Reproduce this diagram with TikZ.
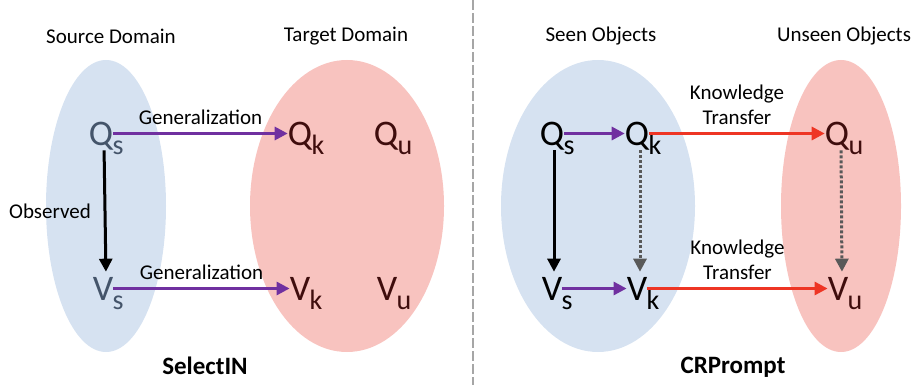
\documentclass[tikz,border=0pt]{standalone}
\usepackage{fontspec}
\setmainfont{Carlito}
\usepackage{tikz}
\usetikzlibrary{arrows.meta, positioning, calc}

\definecolor{seenblue}{HTML}{D6E2F1}
\definecolor{unseenred}{HTML}{F8C3BF}
\definecolor{slategray}{HTML}{44546A}
\definecolor{darkmaroon}{HTML}{3F0D0D}
\definecolor{genpurple}{HTML}{7030A0}
\definecolor{transred}{HTML}{EE3524}

% big letter with its subscript: name, position, letter, subscript, colour
\newcommand{\symnode}[5]{%
	\node[bigsym, text=#5] (#1) at (#2) {#3};
	\node[subsym, text=#5, anchor=base west] (#1sub) at ([xshift=-1pt,yshift=-9pt]#1.south east) {#4};}

\begin{document}
\begin{tikzpicture}[x=1pt, y=-1pt,
	bigsym/.style={inner sep=0pt, font=\fontsize{36}{36}\selectfont, text height=23.2pt, text depth=0pt},
	subsym/.style={inner sep=0pt, font=\fontsize{28}{28}\selectfont},
	lbl/.style={inner sep=0pt, text=black, font=\fontsize{21}{25}\selectfont, align=center},
	title/.style={inner sep=0pt, font=\fontsize{25}{25}\selectfont\bfseries},
	arr/.style={line width=3pt, -{Triangle[length=13pt, width=13pt]}},
	gen/.style={arr, genpurple},
	trans/.style={arr, transred},
	obs/.style={arr, black, shorten <=5pt, shorten >=5pt},
	infer/.style={arr, black!65, dash pattern=on 3pt off 2pt, shorten <=5pt, shorten >=5pt}]
			\useasboundingbox (0,0) rectangle (915,385);
			
			% left: SelectIN
			\fill[seenblue] (106,206) ellipse [x radius=60, y radius=146];
			\fill[unseenred] (347,206) ellipse [x radius=97, y radius=146];
			\node[lbl] (srclbl) at (111,36) {Source Domain};
			\node[lbl] (tgtlbl) at (346,36) {Target Domain};
			
			\symnode{lqs}{101,133.5}{Q}{s}{slategray}
			\symnode{lqk}{300,133.5}{Q}{k}{darkmaroon}
			\symnode{lqu}{386,133.5}{Q}{u}{darkmaroon}
			\symnode{lvs}{103,288.5}{V}{s}{slategray}
			\symnode{lvk}{300,288.5}{V}{k}{darkmaroon}
			\symnode{lvu}{387,288.5}{V}{u}{darkmaroon}
			
			\draw[gen] (lqs.east) -- (lqk.west) node[lbl, midway, above=7pt] (lgen1) {Generalization};
			\draw[gen] (lvs.east) -- (lvk.west) node[lbl, midway, above=7pt] (lgen2) {Generalization};
			\draw[obs] ([xshift=3pt]lqs.south) -- ([xshift=3pt]lvs.north);
			\node[lbl] (obslbl) at (50,211) {Observed};
			\node[title] (lname) at (205,366) {SelectIN};
			
			% divider
			\draw[black!35, line width=2.5pt, dash pattern=on 10pt off 3pt] (473,0) -- (473,385);
			
			% right: CRPrompt
			\fill[seenblue] (598,206) ellipse [x radius=97, y radius=146];
			\fill[unseenred] (841,206) ellipse [x radius=60, y radius=146];
			\node[lbl] (seenlbl) at (601,36) {Seen Objects};
			\node[lbl] (unseenlbl) at (844,36) {Unseen Objects};
			
			\symnode{rqs}{552,133.5}{Q}{s}{black}
			\symnode{rqk}{637,133.5}{Q}{k}{black}
			\symnode{rqu}{837,133.5}{Q}{u}{darkmaroon}
			\symnode{rvs}{552,288.5}{V}{s}{black}
			\symnode{rvk}{637,288.5}{V}{k}{black}
			\symnode{rvu}{838,288.5}{V}{u}{darkmaroon}
			
			\draw[gen] (rqs.east) -- (rqk.west);
			\draw[gen] (rvs.east) -- (rvk.west);
			\draw[trans] (rqk.east) -- (rqu.west) node[lbl, midway, above=7pt] (rtr1) {Knowledge\\Transfer};
			\draw[trans] (rvk.east) -- (rvu.west) node[lbl, midway, above=7pt] (rtr2) {Knowledge\\Transfer};
			\draw[obs] ([xshift=2pt]rqs.south) -- ([xshift=2pt]rvs.north);
			\draw[infer] ([xshift=3pt]rqk.south) -- ([xshift=3pt]rvk.north);
			\draw[infer] ([xshift=4pt]rqu.south) -- ([xshift=4pt]rvu.north);
			\node[title] (rname) at (733,367) {CRPrompt};
			\end{tikzpicture}
\end{document}
